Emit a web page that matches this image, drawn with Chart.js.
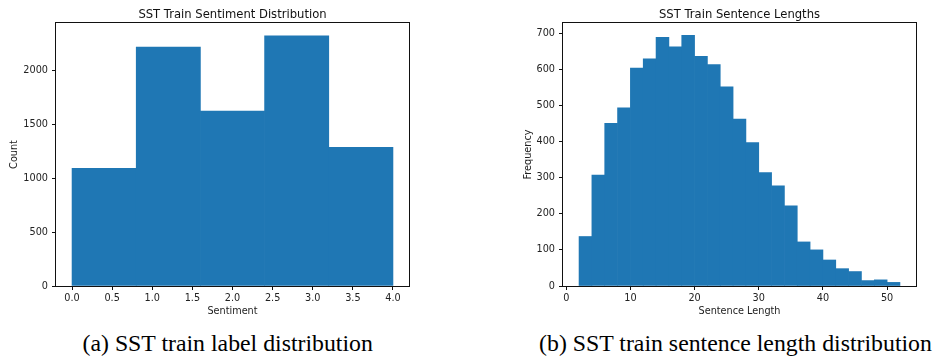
<!DOCTYPE html>
<html>
<head>
<meta charset="utf-8">
<script src="https://cdn.jsdelivr.net/npm/chart.js@4/dist/chart.umd.min.js"></script>
<style>
  html, body { margin: 0; padding: 0; background: #fff; }
  #page { position: relative; width: 937px; height: 363px; overflow: hidden; }
  canvas { position: absolute; top: 0; }
  .title { position: absolute; font: 11.6px "DejaVu Sans", sans-serif; line-height: 14px;
           color: #111; text-align: center; width: 400px; white-space: nowrap; }
  .caption { position: absolute; font: 23.8px "Liberation Serif", "Times New Roman", serif; line-height: 27px;
             color: #000; text-align: center; width: 500px; white-space: nowrap; }
</style>
</head>
<body>
<div id="page">
  <canvas id="sentiment" width="420" height="320" style="left:0"></canvas>
  <canvas id="lengths" width="437" height="320" style="left:500px"></canvas>
  <div class="title" style="left:32.5px; top:6.7px">SST Train Sentiment Distribution</div>
  <div class="title" style="left:539.5px; top:6.7px">SST Train Sentence Lengths</div>
  <div class="caption" style="left:-22.3px; top:330px">(a) SST train label distribution</div>
  <div class="caption" style="left:485.5px; top:330px">(b) SST train sentence length distribution</div>
</div>
<script>
// histogram bins
var sentimentCenters = [0.4, 1.2, 2.0, 2.8, 3.6];   // 5 bins over 0..4
var sentimentCounts  = [1092, 2218, 1624, 2322, 1288];

var lengthCenters = [3, 5, 7, 9, 11, 13, 15, 17, 19, 21, 23, 25, 27,
                     29, 31, 33, 35, 37, 39, 41, 43, 45, 47, 49, 51];  // bins of width 2 from 2 to 52
var lengthFreq    = [137, 307, 450, 493, 603, 629, 688, 662, 694, 636, 613, 551, 462,
                     397, 314, 277, 222, 122, 100, 72, 48, 40, 15, 17, 10];

// tick labels
var sentimentXTicks = [0, 0.5, 1, 1.5, 2, 2.5, 3, 3.5, 4];
var sentimentYTicks = [0, 500, 1000, 1500, 2000];
var lengthXTicks    = [0, 10, 20, 30, 40, 50];
var lengthYTicks    = [0, 100, 200, 300, 400, 500, 600, 700];

var barBlue = '#1f77b4';
var tickFont = { family: 'DejaVu Sans', size: 9.7 };
var ink = '#222';

// matplotlib style box around the plot area
var spines = {
  id: 'spines',
  afterDraw: function(chart) {
    var a = chart.chartArea, ctx = chart.ctx;
    ctx.save();
    ctx.strokeStyle = '#111';
    ctx.lineWidth = 1;
    ctx.strokeRect(Math.round(a.left) - 0.5, Math.round(a.top) - 0.5,
                   Math.round(a.right - a.left) + 1, Math.round(a.bottom - a.top) + 1);
    ctx.restore();
  }
};

function fixedTicks(list) {
  return function(s) { s.ticks = list.map(function(v) { return { value: v }; }); };
}

function histogram(id, centers, values, o) {
  var pts = centers.map(function(c, i) { return { x: c, y: values[i] }; });
  return new Chart(document.getElementById(id), {
    type: 'bar',
    data: { datasets: [{ data: pts, backgroundColor: barBlue, borderWidth: 0,
                         barThickness: 'flex', barPercentage: 1, categoryPercentage: 1 }] },
    options: {
      responsive: false,
      animation: false,
      devicePixelRatio: 1,
      layout: { padding: { left: 0, right: o.padRight, top: 23, bottom: 0 } },
      plugins: { legend: { display: false }, tooltip: { enabled: false } },
      scales: {
        x: {
          type: 'linear', min: o.xMin, max: o.xMax, offset: false,
          afterFit: function(s) { s.height = 34; },
          afterBuildTicks: fixedTicks(o.xTicks),
          ticks: { font: tickFont, color: ink, padding: 3, maxRotation: 0, autoSkip: false,
                   callback: o.xFormat },
          grid: { offset: false, drawOnChartArea: false, tickLength: 4, color: '#111' },
          border: { display: false },
          title: { display: true, text: o.xTitle, font: tickFont, color: ink,
                   padding: { top: 0, bottom: 3 } }
        },
        y: {
          min: 0, max: o.yMax,
          afterFit: function(s) { s.width = o.yWidth; },
          afterBuildTicks: fixedTicks(o.yTicks),
          ticks: { font: tickFont, color: ink, padding: 4, autoSkip: false,
                   callback: function(v) { return String(v); } },
          grid: { drawOnChartArea: false, tickLength: 4, color: '#111' },
          border: { display: false },
          title: { display: true, text: o.yTitle, font: tickFont, color: ink,
                   padding: { top: o.yTitlePad, bottom: 0 } }
        }
      }
    },
    plugins: [spines]
  });
}

histogram('sentiment', sentimentCenters, sentimentCounts, {
  xMin: -0.2, xMax: 4.2, xTicks: sentimentXTicks,
  xFormat: function(v) { return Number(v).toFixed(1); },
  yMax: 2442, yTicks: sentimentYTicks, yWidth: 56, padRight: 11, yTitlePad: 8.2,
  xTitle: 'Sentiment', yTitle: 'Count'
});

histogram('lengths', lengthCenters, lengthFreq, {
  xMin: -0.5, xMax: 54.5, xTicks: lengthXTicks,
  xFormat: function(v) { return String(v); },
  yMax: 728, yTicks: lengthYTicks, yWidth: 63, padRight: 21, yTitlePad: 22.5,
  xTitle: 'Sentence Length', yTitle: 'Frequency'
});
</script>
</body>
</html>
